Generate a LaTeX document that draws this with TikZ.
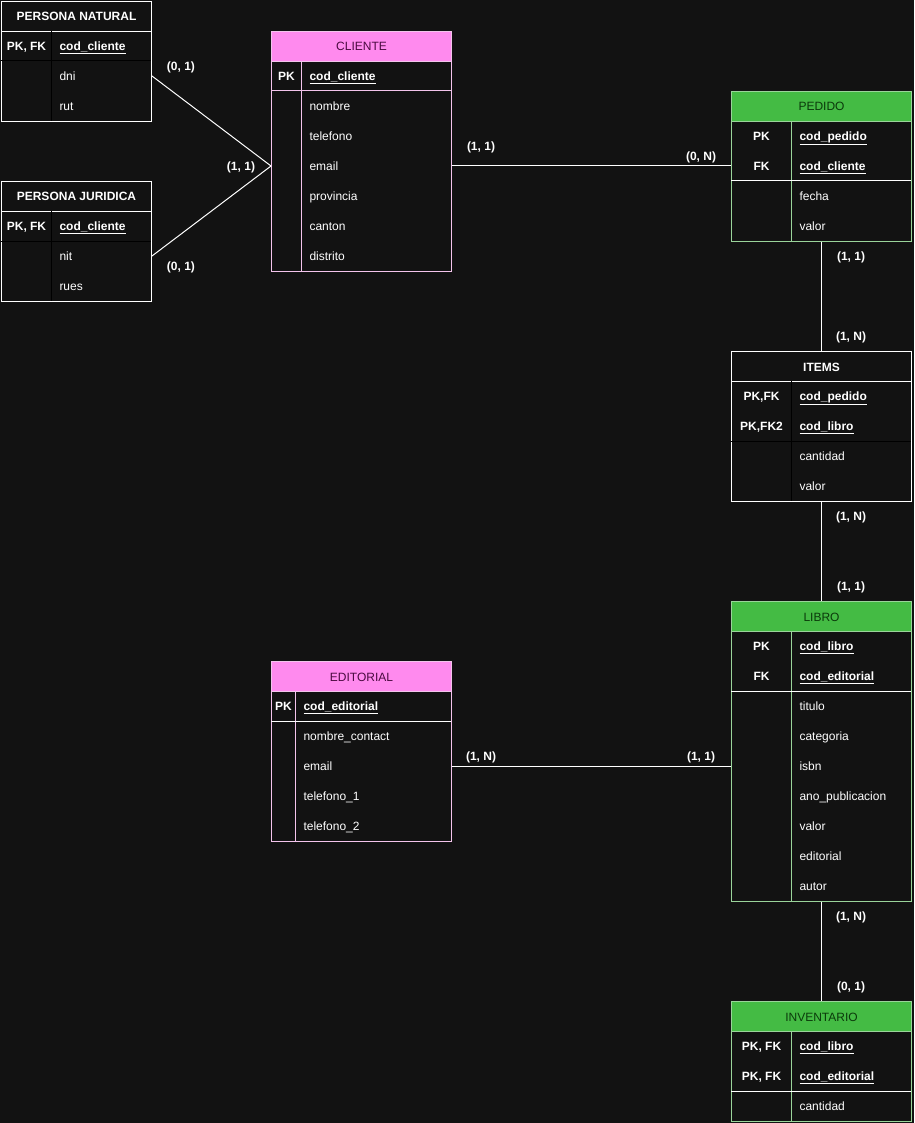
\documentclass[tikz,border=0pt]{standalone}
\usepackage{fontspec}
\setmainfont{Liberation Sans}
\usetikzlibrary{positioning}

\definecolor{bgdark}{HTML}{121212}
\definecolor{pinkhead}{HTML}{FF8AEE}
\definecolor{pinkline}{HTML}{F3C4EC}
\definecolor{pinktext}{HTML}{4A0B40}
\definecolor{greenhead}{HTML}{44BB44}
\definecolor{greenline}{HTML}{9AD49A}
\definecolor{greentext}{HTML}{0B3A0B}

\begin{document}
\begin{tikzpicture}[ % one unit = one pixel of the drawing
x=1pt, y=-1pt, line width=1pt,
every node/.style={font=\fontsize{12}{14}\selectfont, text=white, text height=10.5pt, text depth=1.5pt},
frame/.style={rectangle, draw=white, minimum width=180pt, inner sep=0pt, anchor=north west},
small_frame/.style={frame, minimum width=150pt},
head/.style={rectangle, draw=white, minimum width=180pt, minimum height=30pt, inner sep=0pt, anchor=north west},
small_head/.style={head, minimum width=150pt, font=\fontsize{12}{14}\selectfont\bfseries},
pink_head/.style={head, fill=pinkhead, draw=pinkline, text=pinktext},
green_head/.style={head, fill=greenhead, draw=greenline, text=greentext},
key_cell/.style={rectangle, minimum height=30pt, inner sep=0pt, anchor=west, font=\fontsize{12}{14}\selectfont\bfseries},
attr/.style={rectangle, minimum height=30pt, inner xsep=8pt, inner ysep=0pt, anchor=west, align=left, text width=134pt},
small_attr/.style={attr, text width=84pt},
key_attr/.style={attr, font=\fontsize{12}{14}\selectfont\bfseries},
small_key_attr/.style={small_attr, font=\fontsize{12}{14}\selectfont\bfseries},
link/.style={draw=white, line width=1pt},
card/.style={font=\fontsize{12}{14}\selectfont\bfseries}
]

% background and margins
\fill[bgdark] (0,0) rectangle (914,1123);
\useasboundingbox (0,0) rectangle (914,1123);

% ---------- PERSONA NATURAL ----------
\node[small_frame, minimum height=120pt](natural) at (1,1) {};
\node[head, small_head](natural_head) at (1,1) {PERSONA NATURAL};
\node[key_cell, minimum width=50pt](natural_pk) at (1,46) {PK, FK};
\node[small_key_attr](natural_k1) at (51,46) {\underline{cod\_cliente}};
\node[small_attr](natural_a1) at (51,76) {dni};
\node[small_attr](natural_a2) at (51,106) {rut};
\draw (51,31) -- (51,121);
\draw (1,61) -- (151,61);

% ---------- PERSONA JURIDICA ----------
\node[small_frame, minimum height=120pt](juridica) at (1,181) {};
\node[head, small_head](juridica_head) at (1,181) {PERSONA JURIDICA};
\node[key_cell, minimum width=50pt](juridica_pk) at (1,226) {PK, FK};
\node[small_key_attr](juridica_k1) at (51,226) {\underline{cod\_cliente}};
\node[small_attr](juridica_a1) at (51,256) {nit};
\node[small_attr](juridica_a2) at (51,286) {rues};
\draw (51,211) -- (51,301);
\draw (1,241) -- (151,241);

% ---------- CLIENTE ----------
\node[frame, draw=pinkline, minimum height=240pt](cliente) at (271,31) {};
\node[pink_head](cliente_head) at (271,31) {CLIENTE};
\node[key_cell, minimum width=30pt](cliente_pk) at (271,76) {PK};
\node[key_attr, text width=134pt](cliente_k1) at (301,76) {\underline{cod\_cliente}};
\foreach \t [count=\i] in {nombre, telefono, email, provincia, canton, distrito}
  \node[attr](cliente_a\i) at (301,{76+30*\i}) {\t};
\draw[pinkline] (301,61) -- (301,271);
\draw[pinkline] (271,91) -- (451,91);

% ---------- PEDIDO ----------
\node[frame, draw=greenline, minimum height=150pt](pedido) at (731,91) {};
\node[green_head](pedido_head) at (731,91) {PEDIDO};
\node[key_cell, minimum width=60pt](pedido_pk) at (731,136) {PK};
\node[key_cell, minimum width=60pt](pedido_fk) at (731,166) {FK};
\node[key_attr, text width=104pt](pedido_k1) at (791,136) {\underline{cod\_pedido}};
\node[key_attr, text width=104pt](pedido_k2) at (791,166) {\underline{cod\_cliente}};
\node[attr, text width=104pt](pedido_a1) at (791,196) {fecha};
\node[attr, text width=104pt](pedido_a2) at (791,226) {valor};
\draw[greenline] (791,121) -- (791,241);
\draw[white] (731,181) -- (911,181);

% ---------- ITEMS ----------
\node[frame, minimum height=150pt](items) at (731,351) {};
\node[head, font=\fontsize{12}{14}\selectfont\bfseries](items_head) at (731,351) {ITEMS};
\node[key_cell, minimum width=60pt](items_pk1) at (731,396) {PK,FK};
\node[key_cell, minimum width=60pt](items_pk2) at (731,426) {PK,FK2};
\node[key_attr, text width=104pt](items_k1) at (791,396) {\underline{cod\_pedido}};
\node[key_attr, text width=104pt](items_k2) at (791,426) {\underline{cod\_libro}};
\node[attr, text width=104pt](items_a1) at (791,456) {cantidad};
\node[attr, text width=104pt](items_a2) at (791,486) {valor};
\draw (791,381) -- (791,501);
\draw (731,441) -- (911,441);

% ---------- LIBRO ----------
\node[frame, draw=greenline, minimum height=300pt](libro) at (731,601) {};
\node[green_head](libro_head) at (731,601) {LIBRO};
\node[key_cell, minimum width=60pt](libro_pk) at (731,646) {PK};
\node[key_cell, minimum width=60pt](libro_fk) at (731,676) {FK};
\node[key_attr, text width=104pt](libro_k1) at (791,646) {\underline{cod\_libro}};
\node[key_attr, text width=104pt](libro_k2) at (791,676) {\underline{cod\_editorial}};
\foreach \t [count=\i] in {titulo, categoria, isbn, ano\_publicacion, valor, editorial, autor}
  \node[attr, text width=104pt](libro_a\i) at (791,{676+30*\i}) {\t};
\draw[greenline] (791,631) -- (791,901);
\draw[white] (731,691) -- (911,691);

% ---------- EDITORIAL ----------
\node[frame, draw=pinkline, minimum height=180pt](editorial) at (271,661) {};
\node[pink_head](editorial_head) at (271,661) {EDITORIAL};
\node[key_cell, minimum width=24pt](editorial_pk) at (271,706) {PK};
\node[key_attr, text width=140pt](editorial_k1) at (295,706) {\underline{cod\_editorial}};
\foreach \t [count=\i] in {nombre\_contact, email, telefono\_1, telefono\_2}
  \node[attr, text width=140pt](editorial_a\i) at (295,{706+30*\i}) {\t};
\draw[pinkline] (295,691) -- (295,841);
\draw[white] (271,721) -- (451,721);

% ---------- INVENTARIO ----------
\node[frame, draw=greenline, minimum height=120pt](inventario) at (731,1001) {};
\node[green_head](inventario_head) at (731,1001) {INVENTARIO};
\node[key_cell, minimum width=60pt](inventario_pk1) at (731,1046) {PK, FK};
\node[key_cell, minimum width=60pt](inventario_pk2) at (731,1076) {PK, FK};
\node[key_attr, text width=104pt](inventario_k1) at (791,1046) {\underline{cod\_libro}};
\node[key_attr, text width=104pt](inventario_k2) at (791,1076) {\underline{cod\_editorial}};
\node[attr, text width=104pt](inventario_a1) at (791,1106) {cantidad};
\draw[greenline] (791,1031) -- (791,1121);
\draw[white] (731,1091) -- (911,1091);

% ---------- relations ----------
\draw[link](natural_a1.east) -- (cliente_a3 -| cliente.west);
\draw[link](juridica_a1.east) -- (cliente_a3 -| cliente.west);
\draw[link](cliente_a3.east) -- (pedido_fk.west);
\draw[link](pedido.south) -- (items.north);
\draw[link](items.south) -- (libro.north);
\draw[link](editorial_a2.east) -- (libro_a3 -| libro.west);
\draw[link](libro.south) -- (inventario.north);

% cardinalities
\node[card](c_nat) at (181,66) {(0, 1)};
\node[card](c_jur) at (181,266) {(0, 1)};
\node[card](c_cli_sub) at (241,166) {(1, 1)};
\node[card](c_cli_ped) at (481,146) {(1, 1)};
\node[card](c_ped_cli) at (701,156) {(0, N)};
\node[card](c_ped_it) at (851,256) {(1, 1)};
\node[card](c_it_ped) at (851,336) {(1, N)};
\node[card](c_it_lib) at (851,516) {(1, N)};
\node[card](c_lib_it) at (851,586) {(1, 1)};
\node[card](c_ed_lib) at (481,756) {(1, N)};
\node[card](c_lib_ed) at (701,756) {(1, 1)};
\node[card](c_lib_inv) at (851,916) {(1, N)};
\node[card](c_inv_lib) at (851,986) {(0, 1)};
\end{tikzpicture}
\end{document}
